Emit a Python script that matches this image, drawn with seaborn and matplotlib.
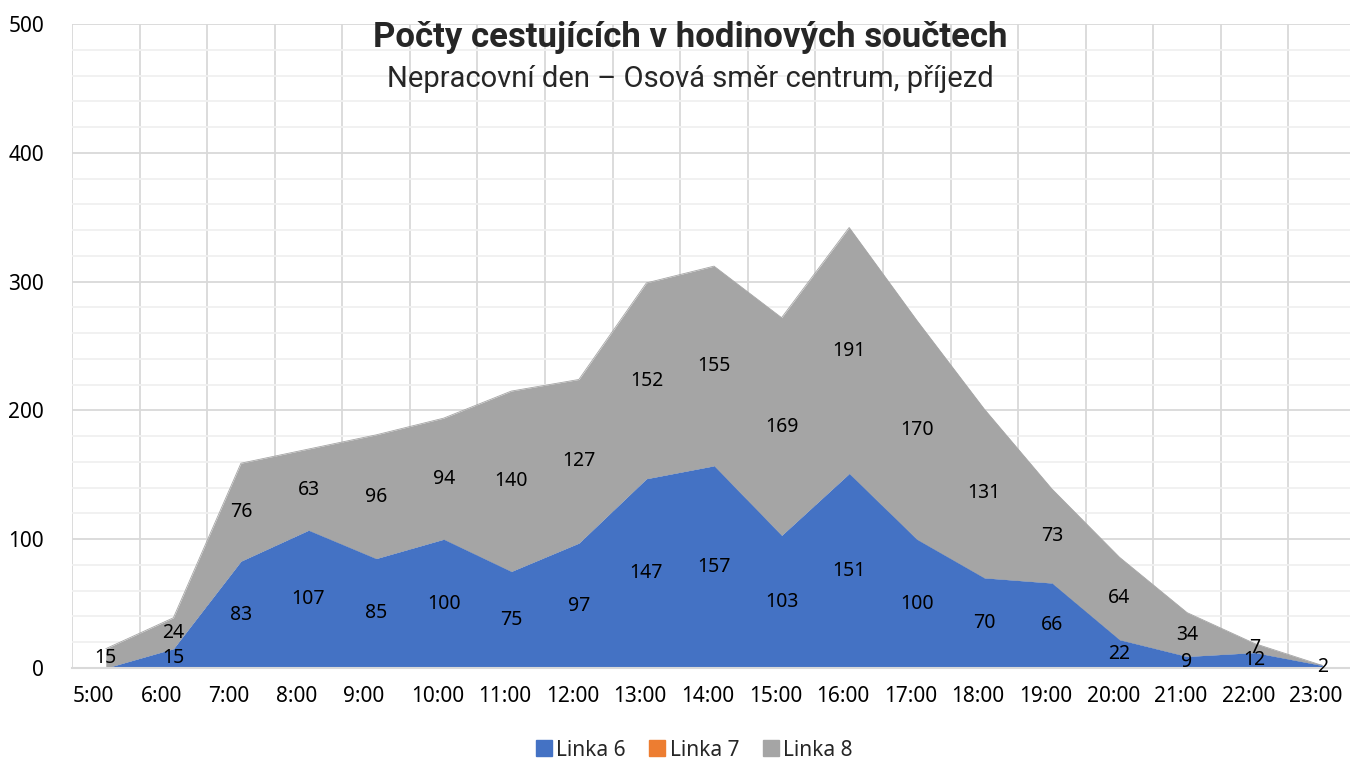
import numpy as np
import pandas as pd
import matplotlib
matplotlib.use("Agg")
import matplotlib.pyplot as plt
import seaborn as sns
from matplotlib.lines import Line2D
from matplotlib.transforms import ScaledTranslation

# data
hours = ["5:00", "6:00", "7:00", "8:00", "9:00", "10:00", "11:00", "12:00", "13:00",
         "14:00", "15:00", "16:00", "17:00", "18:00", "19:00", "20:00", "21:00",
         "22:00", "23:00"]
linka6 = [0, 15, 83, 107, 85, 100, 75, 97, 147, 157, 103, 151, 100, 70, 66, 22, 9, 12, 2]
linka7 = [0] * 19
linka8 = [15, 24, 76, 63, 96, 94, 140, 127, 152, 155, 169, 191, 170, 131, 73, 64, 34, 7, 0]

series = ["Linka 6", "Linka 7", "Linka 8"]
colors = ["#4472C4", "#ED7D31", "#A5A5A5"]

df = pd.DataFrame({"hour": hours, "Linka 6": linka6, "Linka 7": linka7, "Linka 8": linka8})
df["x"] = np.arange(len(df))

sns.set_theme(style="white")
plt.rcParams["font.family"] = ["Noto Sans", "DejaVu Sans"]

fig = plt.figure(figsize=(13.5, 7.61), dpi=100)
ax = fig.add_axes([72 / 1350, 1 - 668 / 761, 1284 / 1350, (668 - 24) / 761])

# stacked areas
bottom = np.zeros(len(df))
for name, col in zip(series, colors):
    top = bottom + df[name].values
    ax.fill_between(df["x"], bottom, top, color=col, linewidth=0, zorder=2)
    if df[name].sum() > 0:
        sns.lineplot(x=df["x"], y=top, ax=ax, color=col, linewidth=0.6, zorder=2)
    for xi, b, v in zip(df["x"], bottom, df[name].values):
        if v > 0:
            ax.text(xi, b + v / 2, str(v), ha="center", va="center",
                    fontsize=14, color="#000000", zorder=5)
    bottom = top

ax.set_xlim(-0.5, len(df) - 0.5)
ax.set_ylim(0, 500)

# gridlines
ax.set_yticks(range(0, 501, 100))
ax.set_yticks(range(0, 501, 20), minor=True)
ax.set_xticks(df["x"] - 0.5)
ax.set_xticklabels(df["hour"], ha="left")
ax.grid(axis="y", which="major", color="#D9D9D9", linewidth=1.3, zorder=0)
ax.grid(axis="y", which="minor", color="#F0F0F0", linewidth=1.3, zorder=0)
ax.grid(axis="x", which="major", color="#D9D9D9", linewidth=1.3, zorder=0)
ax.set_axisbelow(True)
ax.tick_params(axis="both", which="both", length=0, labelsize=15, colors="#000000")
ax.tick_params(axis="y", pad=20)
ax.tick_params(axis="x", pad=13)
shift = ScaledTranslation(1 / 100, 0, fig.dpi_scale_trans)
for lab in ax.get_xticklabels():
    lab.set_transform(lab.get_transform() + shift)
for s in ["top", "right", "left"]:
    ax.spines[s].set_visible(False)
ax.spines["bottom"].set_color("#D9D9D9")
ax.spines["bottom"].set_linewidth(1.5)
ax.set_xlabel("")
ax.set_ylabel("")

# titles
fig.text(690 / 1350, 1 - 38 / 761, "Počty cestujících v hodinových součtech",
         ha="center", va="center", fontsize=25, fontweight="bold",
         family=["Roboto", "DejaVu Sans"])
fig.text(690 / 1350, 1 - 79 / 761, "Nepracovní den – Osová směr centrum, příjezd",
         ha="center", va="center", fontsize=21,
         family=["Roboto", "DejaVu Sans"])

# legend
handles = [Line2D([], [], marker="s", linestyle="", markersize=11, color=c) for c in colors]
fig.legend(handles, series, loc="center", bbox_to_anchor=(692 / 1350, 1 - 750 / 761),
           ncol=3, frameon=False, fontsize=15, handletextpad=0.0, columnspacing=0.9,
           handlelength=1.2)

fig.savefig("out.png", dpi=100)
